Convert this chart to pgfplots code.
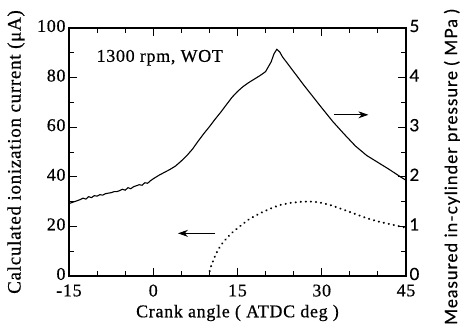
\documentclass[border=0pt]{standalone}
\usepackage{fontspec}
\setmainfont{Liberation Serif}[LetterSpace=4, FakeBold=0.6]
\newfontfamily\rsans{Lato}[LetterSpace=6, FakeBold=0.5]
\usepackage{pgfplots}
\pgfplotsset{compat=1.18}
\usetikzlibrary{arrows.meta}
\newcommand{\fs}{\fontsize{18}{20}\selectfont}
\newcommand{\fl}{\fontsize{19}{20}\selectfont}
\begin{document}
\begin{tikzpicture}
\pgfplotsset{base/.style={scale only axis, width=337bp, height=248bp,
  xmin=-15, xmax=45, tick align=inside,
  major tick length=8bp, minor tick length=5bp,
  axis line style={line width=1.5pt},
  every tick/.style={line width=1pt,black},
  /pgf/number format/assume math mode=true,
  tick label style={font=\fs}}}
\begin{axis}[base, ymin=0, ymax=100,
  xtick={-15,0,15,30,45}, minor x tick num=2,
  ytick={0,20,...,100}, minor y tick num=1, ytick pos=left,
  xticklabel style={yshift=-5bp}, yticklabel style={yshift=2bp},
  every axis x label/.style={at={(rel axis cs:0.5,0)}, yshift=-37bp, anchor=center, font=\fs},
  every axis y label/.style={at={(rel axis cs:0,0.5)}, xshift=-53bp, rotate=90, anchor=center, font=\fl},
  xlabel={Crank angle ( ATDC deg )},
  ylabel={Calculated ionization current (μA)},
  clip=false]
\addplot[black, line width=2.2pt, line cap=round, dash pattern=on 0.1pt off 5pt] coordinates {
(9.8,0) (10.3,4) (10.9,7.5) (11.5,10.5) (12.5,13.8) (13.8,17) (15.4,20) (17,22.8)
(19,25.3) (21,27.3) (22.5,28.6) (24.5,29.5) (26.7,30) (28.5,30) (30.2,29.4)
(32,28.3) (33.8,26.8) (36,25) (38,23.3) (40,22) (42,21) (43.9,20) (45,19.5)};
\draw[line width=0.9pt, -{Stealth[length=10bp,width=7bp]}] (axis cs:11,17.2) -- (axis cs:4.4,17.2);
\draw[line width=0.9pt, -{Stealth[length=10bp,width=7bp]}] (axis cs:32.2,65) -- (axis cs:38.3,65);
\node[anchor=west, font=\fs] at (axis cs:-10.7,88) {1300 rpm, WOT};
\end{axis}
\begin{axis}[base, ymin=0, ymax=5, axis y line*=right, axis x line=none,
  ytick={0,1,...,5}, minor y tick num=1,
  yticklabel style={font=\rsans\fontsize{17}{19}\selectfont, yshift=2bp},
  every axis y label/.style={at={(rel axis cs:1,0.5)}, xshift=46bp, yshift=-15bp, rotate=90, anchor=center, font=\rsans\fontsize{17.2}{19}\selectfont},
  ylabel={Measured in-cylinder pressure ( MPa )}]
\addplot[black, line width=1.1pt] coordinates {
(-15,1.46) (-14.5,1.48) (-14,1.50) (-13.5,1.52) (-13,1.54) (-12.5,1.57) (-12,1.55)
(-11.5,1.60) (-11,1.58) (-10.5,1.62) (-10,1.61) (-9.5,1.64) (-9,1.63) (-8.5,1.66)
(-8,1.67) (-7.5,1.68) (-7,1.70) (-6.5,1.70) (-6,1.72) (-5.5,1.75) (-5,1.73)
(-4.5,1.78) (-4,1.76) (-3.5,1.80) (-3,1.82) (-2.5,1.84) (-2,1.83) (-1.5,1.88)
(-1,1.87) (-0.5,1.92) (0,1.96) (1,2.03) (2,2.09) (3,2.15) (4,2.22) (5,2.32)
(6,2.43) (7,2.56) (8,2.72) (9,2.87) (10,3.01) (11,3.16) (12,3.30) (13,3.45)
(14,3.60) (15,3.72) (16,3.82) (17,3.90) (18,3.97) (19,4.04) (20,4.12) (21,4.32)
(21.5,4.48) (22,4.57) (22.5,4.52) (23,4.42) (24,4.27) (25,4.12) (26,3.97)
(27,3.82) (28.4,3.62) (30,3.39) (32,3.11) (34,2.86) (36,2.62) (38,2.43)
(40,2.29) (42,2.15) (44,2.00) (45,1.93)};
\end{axis}
\pgfresetboundingbox
\path (-69bp,-55bp) rectangle (391bp,276bp);
\end{tikzpicture}
\end{document}
